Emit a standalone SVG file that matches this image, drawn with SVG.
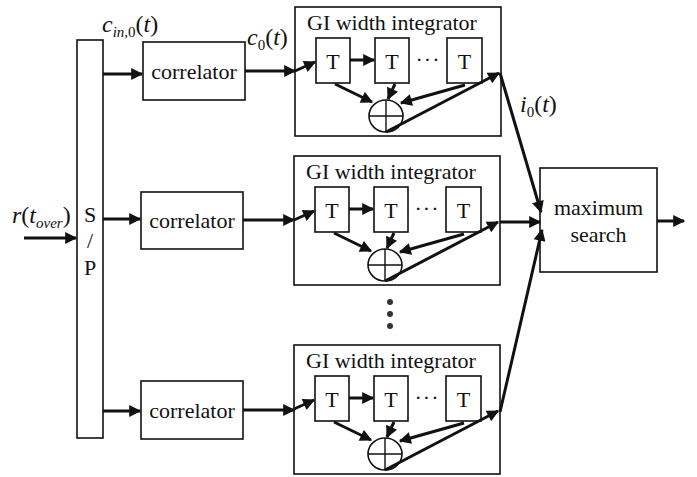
<svg xmlns="http://www.w3.org/2000/svg" width="697" height="477" viewBox="0 0 697 477">
<defs>
<marker id="ah" viewBox="0 0 10 10" refX="9" refY="5" markerWidth="4.6" markerHeight="4" orient="auto" markerUnits="strokeWidth">
<path d="M0,0 L10,5 L0,10 z" fill="#111"/>
</marker>
<style>
.box{fill:#fff;stroke:#111;stroke-width:1.6}
.ln{fill:none;stroke:#111;stroke-width:3}
.arr{fill:none;stroke:#111;stroke-width:3;marker-end:url(#ah)}
.t{font-family:"Liberation Serif","Times New Roman",serif;font-size:22px;fill:#111}
.m{font-family:"Liberation Serif","Times New Roman",serif;font-size:24px;fill:#111}
.it{font-style:italic}
.dot{fill:#333}
</style>
<g id="gi">
<rect class="box" x="0" y="0" width="206" height="129"/>
<text class="t" x="12" y="23">GI width integrator</text>
<rect class="box" x="21" y="31" width="34" height="45"/>
<text class="t" x="38" y="62" text-anchor="middle">T</text>
<rect class="box" x="80" y="31" width="34" height="45"/>
<text class="t" x="97" y="62" text-anchor="middle">T</text>
<rect class="box" x="152" y="31" width="35" height="45"/>
<text class="t" x="169.5" y="62" text-anchor="middle">T</text>
<text class="t" x="133" y="60" text-anchor="middle" letter-spacing="1">···</text>
<ellipse class="box" cx="91" cy="109" rx="17" ry="16"/>
<line x1="74" y1="109" x2="108" y2="109" stroke="#111" stroke-width="1.4"/>
<line x1="91" y1="93" x2="91" y2="125" stroke="#111" stroke-width="1.4"/>
<line class="arr" x1="0" y1="64" x2="20" y2="55"/>
<line class="arr" x1="55" y1="53" x2="79" y2="53"/>
<line class="arr" x1="40" y1="77" x2="77" y2="95"/>
<line class="arr" x1="100" y1="77" x2="93" y2="92"/>
<line class="arr" x1="170" y1="78" x2="106" y2="96"/>
<line class="arr" x1="91" y1="125" x2="204" y2="66"/>
</g>
</defs>

<g id="sp">
<rect class="box" x="77" y="40" width="26" height="398"/>
<text class="t" x="90" y="222" text-anchor="middle">S</text>
<text class="t" x="90" y="248" text-anchor="middle">/</text>
<text class="t" x="90" y="275" text-anchor="middle">P</text>
</g>

<g id="corr1">
<rect class="box" x="143" y="42" width="102" height="58"/>
<text class="t" x="194" y="79" text-anchor="middle">correlator</text>
</g>
<g id="corr2">
<rect class="box" x="141" y="192" width="102" height="57"/>
<text class="t" x="192" y="228" text-anchor="middle">correlator</text>
</g>
<g id="corr3">
<rect class="box" x="141" y="381" width="102" height="58"/>
<text class="t" x="192" y="418" text-anchor="middle">correlator</text>
</g>

<g id="gi1"><use href="#gi" x="295" y="7"/></g>
<g id="gi2"><use href="#gi" x="294" y="156"/></g>
<g id="gi3"><use href="#gi" x="294" y="345"/></g>

<g id="maxsearch">
<rect class="box" x="540" y="168" width="117" height="104"/>
<text class="t" x="598.5" y="215" text-anchor="middle">maximum</text>
<text class="t" x="598.5" y="242" text-anchor="middle">search</text>
</g>

<g id="dots">
<circle class="dot" cx="390" cy="302" r="3"/>
<circle class="dot" cx="390" cy="314" r="3"/>
<circle class="dot" cx="390" cy="326" r="3"/>
</g>

<g id="connectors">
<line class="arr" x1="24" y1="238" x2="76" y2="238"/>
<line class="arr" x1="103" y1="74" x2="142" y2="74"/>
<line class="arr" x1="103" y1="219" x2="140" y2="219"/>
<line class="arr" x1="103" y1="411" x2="140" y2="411"/>
<line class="arr" x1="245" y1="71" x2="295" y2="71"/>
<line class="arr" x1="243" y1="220" x2="294" y2="220"/>
<line class="arr" x1="243" y1="410" x2="294" y2="410"/>
<line class="arr" x1="500" y1="73" x2="541" y2="212"/>
<line class="arr" x1="500" y1="222" x2="540" y2="222"/>
<line class="arr" x1="500" y1="412" x2="542" y2="230"/>
<line class="arr" x1="657" y1="221" x2="684" y2="221"/>
</g>

<g id="labels">
<text class="m" x="12" y="223"><tspan class="it">r</tspan>(<tspan class="it">t</tspan><tspan class="it" font-size="15" dy="5">over</tspan><tspan dy="-5">)</tspan></text>
<text class="m" x="102" y="32"><tspan class="it">c</tspan><tspan class="it" font-size="15" dy="5">in,</tspan><tspan font-size="15">0</tspan><tspan dy="-5">(</tspan><tspan class="it">t</tspan>)</text>
<text class="m" x="247" y="45"><tspan class="it">c</tspan><tspan font-size="15" dy="5">0</tspan><tspan dy="-5">(</tspan><tspan class="it">t</tspan>)</text>
<text class="m" x="520" y="112"><tspan class="it">i</tspan><tspan font-size="15" dy="5">0</tspan><tspan dy="-5">(</tspan><tspan class="it">t</tspan>)</text>
</g>
</svg>
